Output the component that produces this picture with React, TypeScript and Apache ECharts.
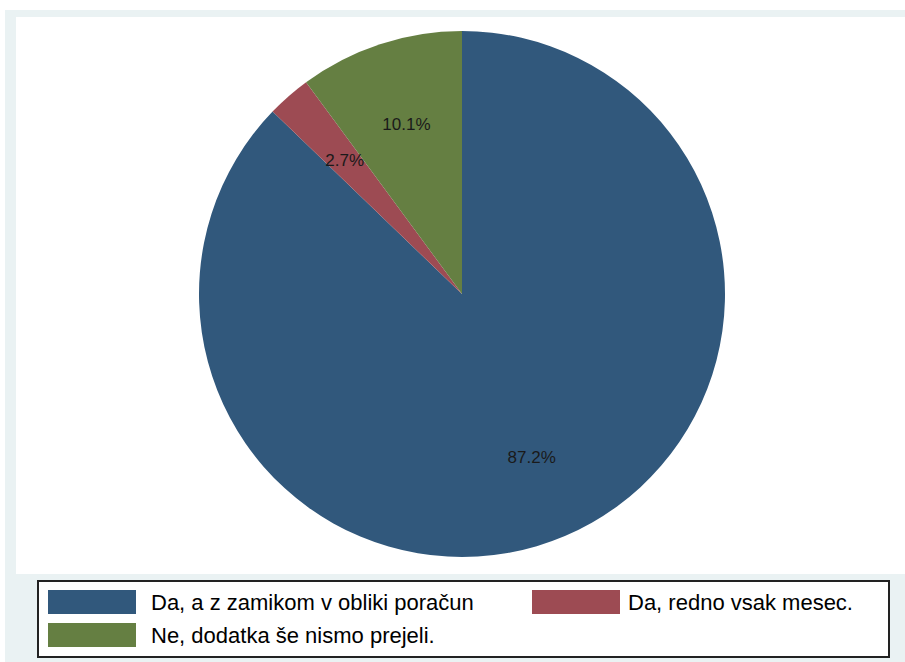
import React, { useEffect, useRef } from "react";
import * as echarts from "echarts";

const categories = [
  "Da, a z zamikom v obliki poračun",
  "Da, redno vsak mesec.",
  "Ne, dodatka še nismo prejeli.",
];
const shares = [87.2, 2.7, 10.1];
const colors = ["#31587c", "#9d4b53", "#657f42"];

export default function App() {
  const ref = useRef<HTMLDivElement>(null);
  useEffect(() => {
    if (!ref.current) return;
    const chart = echarts.init(ref.current, null, { renderer: "svg" });
    const font = "'Liberation Sans', Arial, sans-serif";
    chart.setOption({
      animation: false,
      backgroundColor: "#ffffff",
      graphic: [
        { type: "rect", z: -10, shape: { x: 5, y: 10, width: 900, height: 652 }, style: { fill: "#eaf2f3" }, silent: true },
        { type: "rect", z: -9, shape: { x: 16, y: 17, width: 889, height: 557 }, style: { fill: "#ffffff" }, silent: true },
        { type: "rect", z: -8, shape: { x: 38, y: 581, width: 851, height: 76 }, style: { fill: "#ffffff", stroke: "#222222", lineWidth: 2 }, silent: true },
      ],
      legend: [
        {
          data: [categories[0], categories[2]],
          orient: "vertical",
          left: 43,
          top: 585,
          itemGap: 9,
          itemWidth: 88,
          itemHeight: 24,
          icon: "rect",
          selectedMode: false,
          textStyle: { fontFamily: font, fontSize: 22, color: "#000000", padding: [0, 0, 0, 10] },
        },
        {
          data: [categories[1]],
          orient: "vertical",
          left: 527,
          top: 585,
          itemWidth: 88,
          itemHeight: 24,
          icon: "rect",
          selectedMode: false,
          textStyle: { fontFamily: font, fontSize: 22, color: "#000000", padding: [0, 0, 0, 3] },
        },
      ],
      series: [
        {
          type: "pie",
          center: [462, 294],
          radius: [0, 263],
          startAngle: 90,
          clockwise: true,
          silent: true,
          label: { show: false },
          labelLine: { show: false },
          data: categories.map((c, i) => ({ name: c, value: shares[i], itemStyle: { color: colors[i] } })),
        },
        {
          type: "pie",
          center: [462, 294],
          radius: [172, 178],
          startAngle: 90,
          clockwise: true,
          silent: true,
          itemStyle: { color: "rgba(0,0,0,0)" },
          labelLine: { show: false },
          label: {
            show: true,
            position: "inside",
            formatter: (p: any) => p.value.toFixed(1) + "%",
            fontFamily: font,
            fontSize: 17,
            color: "#1a1a1a",
          },
          data: shares.map((v, i) => ({ name: "lbl" + i, value: v })),
        },
      ],
    });
    return () => chart.dispose();
  }, []);
  return (
    <div
      ref={ref}
      style={{ position: "fixed", left: 0, top: 0, width: 905, height: 662 }}
    />
  );
}
